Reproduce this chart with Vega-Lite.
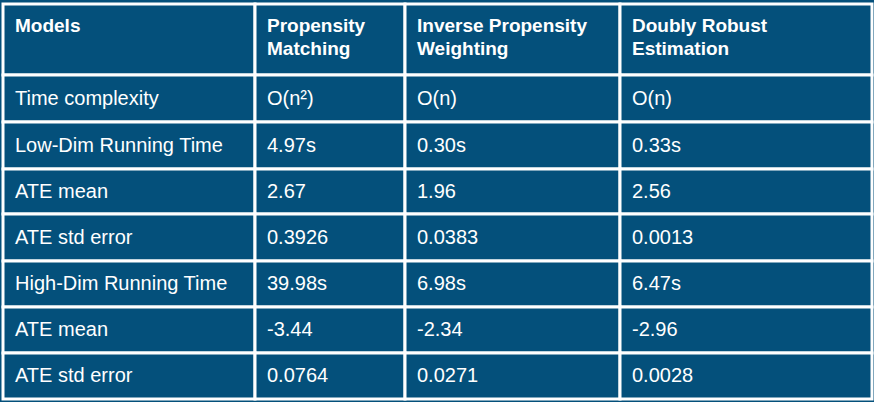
{
  "$schema": "https://vega.github.io/schema/vega-lite/v6.json",
  "autosize": {"type": "fit", "contains": "padding"},
  "width": 874,
  "height": 402,
  "padding": 0,
  "background": "#04507b",
  "datasets": {
    "cols": [
      {"c": 0, "x0": 3, "x1": 255},
      {"c": 1, "x0": 255, "x1": 405},
      {"c": 2, "x0": 405, "x1": 620},
      {"c": 3, "x0": 620, "x1": 872}
    ],
    "rows": [
      {"r": 0, "y0": 4, "y1": 75},
      {"r": 1, "y0": 75, "y1": 122},
      {"r": 2, "y0": 122, "y1": 169},
      {"r": 3, "y0": 169, "y1": 214},
      {"r": 4, "y0": 214, "y1": 261},
      {"r": 5, "y0": 261, "y1": 307},
      {"r": 6, "y0": 307, "y1": 353},
      {"r": 7, "y0": 353, "y1": 399}
    ]
  },
  "data": {
    "values": [
      {"r": 0, "c": 0, "t": "Models"},
      {"r": 0, "c": 1, "t": "Propensity\nMatching"},
      {"r": 0, "c": 2, "t": "Inverse Propensity\nWeighting"},
      {"r": 0, "c": 3, "t": "Doubly Robust\nEstimation"},
      {"r": 1, "c": 0, "t": "Time complexity"},
      {"r": 1, "c": 1, "t": "O(n²)"},
      {"r": 1, "c": 2, "t": "O(n)"},
      {"r": 1, "c": 3, "t": "O(n)"},
      {"r": 2, "c": 0, "t": "Low-Dim Running Time"},
      {"r": 2, "c": 1, "t": "4.97s"},
      {"r": 2, "c": 2, "t": "0.30s"},
      {"r": 2, "c": 3, "t": "0.33s"},
      {"r": 3, "c": 0, "t": "ATE mean"},
      {"r": 3, "c": 1, "t": "2.67"},
      {"r": 3, "c": 2, "t": "1.96"},
      {"r": 3, "c": 3, "t": "2.56"},
      {"r": 4, "c": 0, "t": "ATE std error"},
      {"r": 4, "c": 1, "t": "0.3926"},
      {"r": 4, "c": 2, "t": "0.0383"},
      {"r": 4, "c": 3, "t": "0.0013"},
      {"r": 5, "c": 0, "t": "High-Dim Running Time"},
      {"r": 5, "c": 1, "t": "39.98s"},
      {"r": 5, "c": 2, "t": "6.98s"},
      {"r": 5, "c": 3, "t": "6.47s"},
      {"r": 6, "c": 0, "t": "ATE mean"},
      {"r": 6, "c": 1, "t": "-3.44"},
      {"r": 6, "c": 2, "t": "-2.34"},
      {"r": 6, "c": 3, "t": "-2.96"},
      {"r": 7, "c": 0, "t": "ATE std error"},
      {"r": 7, "c": 1, "t": "0.0764"},
      {"r": 7, "c": 2, "t": "0.0271"},
      {"r": 7, "c": 3, "t": "0.0028"}
    ]
  },
  "transform": [
    {"lookup": "c", "from": {"data": {"name": "cols"}, "key": "c", "fields": ["x0", "x1"]}},
    {"lookup": "r", "from": {"data": {"name": "rows"}, "key": "r", "fields": ["y0", "y1"]}},
    {"calculate": "datum.x0 + 12", "as": "tx"},
    {"calculate": "datum.r == 0 ? datum.y0 + 13 : (datum.y0 + datum.y1) / 2", "as": "ty"}
  ],
  "layer": [
    {
      "mark": {"type": "rect", "fill": "#04507b", "stroke": "#ffffff", "strokeWidth": 3},
      "encoding": {
        "x": {"field": "x0", "type": "quantitative", "scale": {"domain": [0, 874], "nice": false, "zero": false}, "axis": null},
        "x2": {"field": "x1"},
        "y": {"field": "y0", "type": "quantitative", "scale": {"domain": [0, 402], "reverse": true, "nice": false, "zero": false}, "axis": null},
        "y2": {"field": "y1"}
      }
    },
    {
      "transform": [{"filter": "datum.r == 0"}],
      "mark": {"type": "text", "align": "left", "baseline": "top", "font": "Liberation Sans", "fontSize": 19, "fontWeight": "bold", "color": "#ffffff", "lineHeight": 23},
      "encoding": {
        "x": {"field": "tx", "type": "quantitative"},
        "y": {"field": "ty", "type": "quantitative"},
        "text": {"field": "t"}
      }
    },
    {
      "transform": [{"filter": "datum.r > 0"}],
      "mark": {"type": "text", "align": "left", "baseline": "middle", "font": "Liberation Sans", "fontSize": 20, "color": "#ffffff"},
      "encoding": {
        "x": {"field": "tx", "type": "quantitative"},
        "y": {"field": "ty", "type": "quantitative"},
        "text": {"field": "t"}
      }
    }
  ],
  "config": {"view": {"stroke": null}, "text": {"lineBreak": "\n"}}
}
